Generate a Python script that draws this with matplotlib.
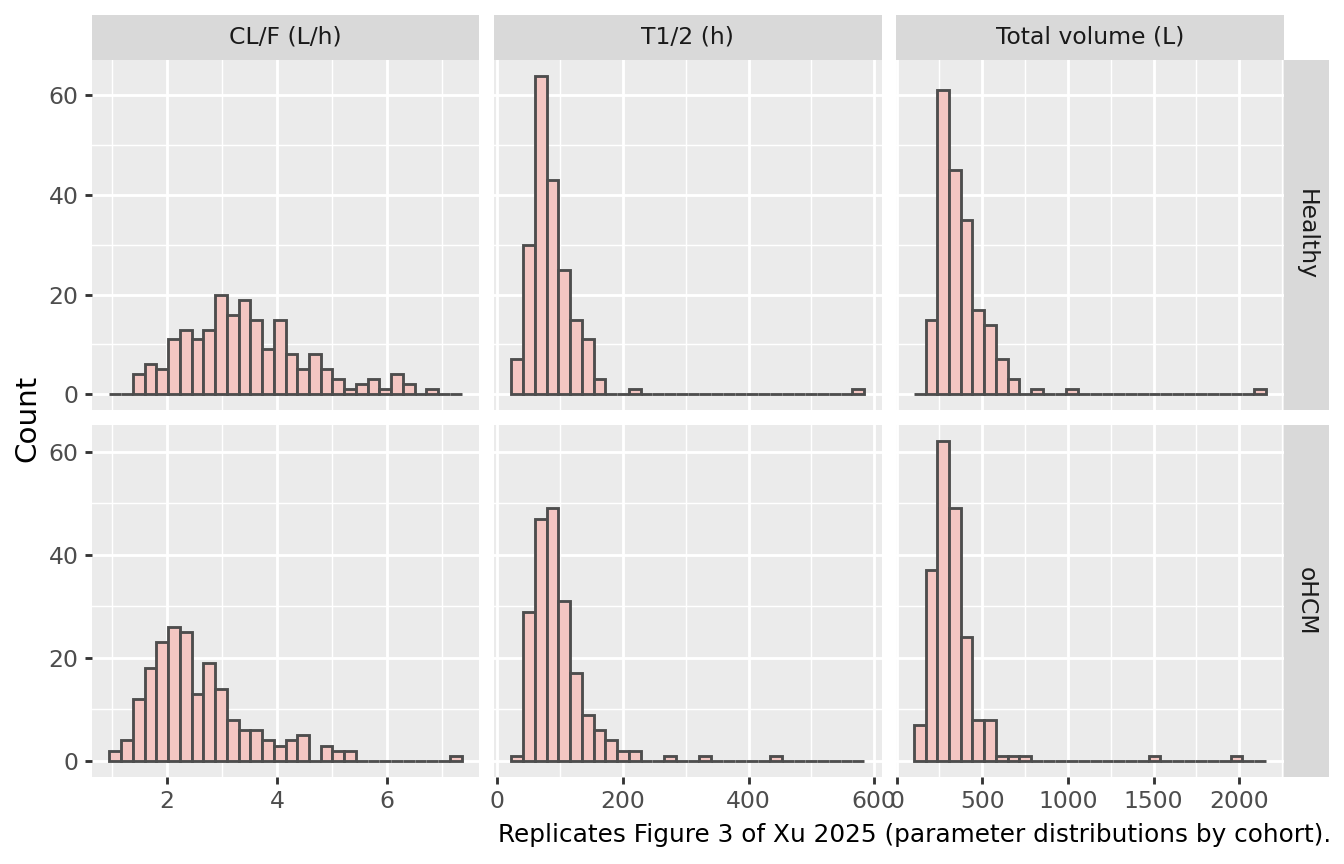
import matplotlib
matplotlib.use('Agg')
import matplotlib.pyplot as plt
import numpy as np

# ---------------------------------------------------------------
# data (30 bins per panel, counts per bin)
# ---------------------------------------------------------------
params = ['CL/F (L/h)', 'T1/2 (h)', 'Total volume (L)']
cohorts = ['Healthy', 'oHCM']

# outer bin edges of each parameter (shared by both cohorts)
bin_lo = [0.95, 22.3, 100.0]
bin_hi = [7.35, 583.9, 2156.0]

clf_healthy = [0, 0, 4, 6, 5, 11, 13, 11, 13, 20, 16, 19, 15, 9, 15,
               8, 5, 8, 5, 3, 1, 2, 3, 1, 4, 2, 0, 1, 0, 0]
clf_ohcm = [2, 4, 12, 18, 23, 26, 25, 13, 19, 14, 8, 6, 6, 4, 3,
            4, 5, 0, 3, 2, 2, 0, 0, 0, 0, 0, 0, 0, 0, 1]
t12_healthy = [7, 30, 64, 43, 25, 15, 11, 3, 0, 0, 1, 0, 0, 0, 0,
               0, 0, 0, 0, 0, 0, 0, 0, 0, 0, 0, 0, 0, 0, 1]
t12_ohcm = [1, 29, 47, 49, 31, 17, 9, 6, 4, 2, 2, 0, 0, 1, 0,
            0, 1, 0, 0, 0, 0, 0, 1, 0, 0, 0, 0, 0, 0, 0]
vol_healthy = [0, 15, 61, 45, 35, 17, 14, 7, 3, 0, 1, 0, 0, 1, 0,
               0, 0, 0, 0, 0, 0, 0, 0, 0, 0, 0, 0, 0, 0, 1]
vol_ohcm = [7, 37, 62, 49, 24, 8, 8, 1, 1, 1, 0, 0, 0, 0, 0,
            0, 0, 0, 0, 0, 1, 0, 0, 0, 0, 0, 0, 1, 0, 0]

counts = [[clf_healthy, t12_healthy, vol_healthy],
          [clf_ohcm, t12_ohcm, vol_ohcm]]

x_major = [[2, 4, 6], [0, 200, 400, 600], [0, 500, 1000, 1500, 2000]]
x_minor = [[1, 3, 5, 7], [100, 300, 500], [250, 750, 1250, 1750, 2250]]
y_major = [0, 20, 40, 60]
y_minor = [10, 30, 50]

caption = 'Replicates Figure 3 of Xu 2025 (parameter distributions by cohort).'

# ---------------------------------------------------------------
W, H = 1344, 864
fig = plt.figure(figsize=(7, 4.5), dpi=192)

def box(x0, y0, x1, y1):
    return [x0 / W, 1 - y1 / H, (x1 - x0) / W, (y1 - y0) / H]

col_px = [(91.7, 479.3), (493.7, 881.7), (896.2, 1283.5)]
row_px = [(59.6, 410.2), (425.4, 777.0)]

panel_bg = '#EBEBEB'
strip_bg = '#D9D9D9'
fill = '#F4C6C2'
edge = '#4D4D4D'
tick_col = '#4D4D4D'

for r in range(2):
    ymax = max(max(c) for c in counts[r])
    ylim = (-0.05 * ymax, 1.05 * ymax)
    for c in range(3):
        ax = fig.add_axes(box(col_px[c][0], row_px[r][0], col_px[c][1], row_px[r][1]))
        ax.set_facecolor(panel_bg)
        for s in ax.spines.values():
            s.set_visible(False)

        edges = np.linspace(bin_lo[c], bin_hi[c], 31)
        width = edges[1] - edges[0]
        ax.bar(edges[:-1], counts[r][c], width=width, align='edge',
               color=fill, edgecolor=edge, linewidth=1.07, zorder=3)

        span = bin_hi[c] - bin_lo[c]
        ax.set_xlim(bin_lo[c] - 0.05 * span, bin_hi[c] + 0.05 * span)
        ax.set_ylim(*ylim)

        ax.set_xticks(x_major[c])
        ax.set_xticks(x_minor[c], minor=True)
        ax.set_yticks(y_major)
        ax.set_yticks(y_minor, minor=True)
        ax.grid(which='major', color='white', linewidth=1.07, zorder=1)
        ax.grid(which='minor', color='white', linewidth=0.53, zorder=1)
        ax.set_axisbelow(True)

        ax.tick_params(which='minor', length=0)
        ax.tick_params(which='major', length=2.75, width=1.07, color='#333333',
                       labelsize=8.8, labelcolor=tick_col, pad=2.2)
        if c != 0:
            ax.tick_params(axis='y', which='major', length=0, labelleft=False)
        if r != 1:
            ax.tick_params(axis='x', which='major', length=0, labelbottom=False)

        # strips
        if r == 0:
            sax = fig.add_axes(box(col_px[c][0], 15.0, col_px[c][1], row_px[0][0]))
            sax.set_facecolor(strip_bg)
            sax.set_xticks([])
            sax.set_yticks([])
            for s in sax.spines.values():
                s.set_visible(False)
            sax.text(0.5, 0.5, params[c], ha='center', va='center',
                     fontsize=8.8, color='#1A1A1A', transform=sax.transAxes)
        if c == 2:
            sax = fig.add_axes(box(col_px[2][1], row_px[r][0], 1329.0, row_px[r][1]))
            sax.set_facecolor(strip_bg)
            sax.set_xticks([])
            sax.set_yticks([])
            for s in sax.spines.values():
                s.set_visible(False)
            sax.text(0.5, 0.5, cohorts[r], ha='center', va='center', rotation=-90,
                     fontsize=8.8, color='#1A1A1A', transform=sax.transAxes)

fig.text(27 / W, 1 - 418 / H, 'Count', rotation=90, ha='center', va='center',
         fontsize=11, color='black')
fig.text(1331 / W, 1 - 835 / H, caption, ha='right', va='center',
         fontsize=9.3, color='black')

fig.savefig('out.png', dpi=192, facecolor='white')
